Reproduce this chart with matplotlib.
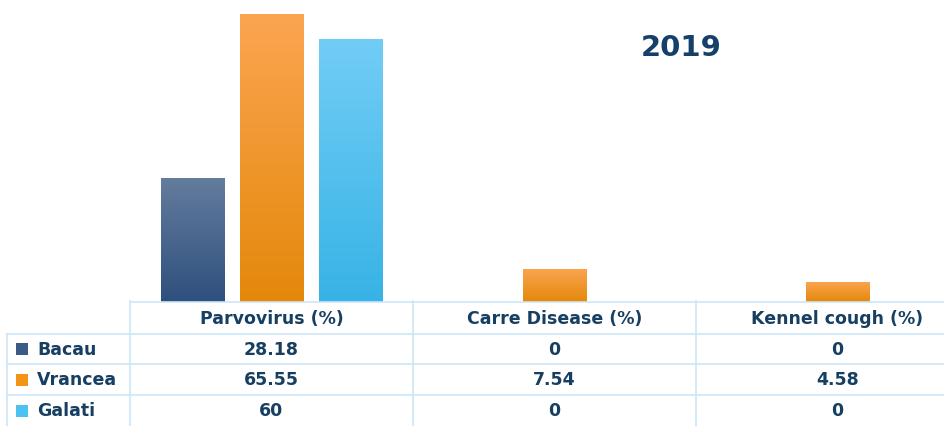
import numpy as np
import matplotlib
matplotlib.use("Agg")
import matplotlib.pyplot as plt
from matplotlib.transforms import blended_transform_factory
from matplotlib.patches import Rectangle
from matplotlib.colors import LinearSegmentedColormap

categories = ["Parvovirus (%)", "Carre Disease (%)", "Kennel cough (%)"]
series_names = ["Bacau", "Vrancea", "Galati"]
bacau = [28.18, 0, 0]
vrancea = [65.55, 7.54, 4.58]
galati = [60, 0, 0]
cell_labels = [["28.18", "0", "0"], ["65.55", "7.54", "4.58"], ["60", "0", "0"]]
title = "2019"

series = [bacau, vrancea, galati]
grad = [("#647c9d", "#2e507d"), ("#fba551", "#e4880a"), ("#72cdf6", "#37b3e5")]
solid = ["#3b5a85", "#f39419", "#4cc2f1"]
text_col = "#163f62"
border = "#cde6f7"

plt.rcParams['font.family'] = ['DejaVu Sans']
W, H = 944, 427
fig = plt.figure(figsize=(W / 100, H / 100), dpi=100)
ax = fig.add_axes([130 / W, 124 / H, 849 / W, 303 / H])
ax.set_xlim(-0.5, 2.5)
ax.set_ylim(0, 69)
ax.axis("off")

x = np.arange(len(categories))
bw = 0.223
off = 0.279
for i, vals in enumerate(series):
    bars = ax.bar(x + (i - 1) * off, vals, bw, color=solid[i], edgecolor="none", zorder=2)
    cmap = LinearSegmentedColormap.from_list("g%d" % i, [grad[i][1], grad[i][0]])
    for b in bars:
        if b.get_height() <= 0:
            continue
        x0, y0 = b.get_x(), b.get_y()
        im = ax.imshow(np.linspace(0, 1, 256).reshape(-1, 1), cmap=cmap, origin="lower",
                       extent=[x0, x0 + b.get_width(), y0, y0 + b.get_height()],
                       aspect="auto", zorder=3)
        im.set_clip_path(b)
ax.set_xlim(-0.5, 2.5)
ax.set_ylim(0, 69)

fig.text(681 / W, 1 - 48 / H, title, ha="center", va="center", fontsize=21,
         fontweight="bold", color="#14406a")

# table
tr = blended_transform_factory(ax.transData, fig.transFigure)
def fy(py):
    return 1 - py / H
rows_y = [302, 335, 365, 396, 427]
left_px = 7
lw = 1.2
fig.add_artist(plt.Line2D([-0.5, 2.5], [fy(302.5), fy(302.5)], transform=tr, color=border, lw=lw))
for yy in rows_y[1:4]:
    fig.add_artist(plt.Line2D([left_px / W, 1], [fy(yy), fy(yy)], transform=fig.transFigure,
                              color=border, lw=lw))
for k in range(len(categories)):
    fig.add_artist(plt.Line2D([k - 0.5, k - 0.5], [fy(302), 0], transform=tr, color=border, lw=lw))
fig.add_artist(plt.Line2D([left_px / W, left_px / W], [fy(335), 0], transform=fig.transFigure,
                          color=border, lw=lw))

fs = 12.5
for k, c in enumerate(categories):
    fig.text(k, fy((302 + 335) / 2), c, transform=tr, ha="center", va="center",
             fontsize=fs, fontweight="bold", color=text_col)
for r, name in enumerate(series_names):
    yc = (rows_y[r + 1] + rows_y[r + 2]) / 2
    fig.add_artist(Rectangle((16 / W, fy(yc + 6)), 12 / W, 12 / H, transform=fig.transFigure,
                             facecolor=solid[r], edgecolor="none"))
    fig.text(37 / W, fy(yc), name, ha="left", va="center", fontsize=fs,
             fontweight="bold", color=text_col)
    for k in range(len(categories)):
        fig.text(k, fy(yc), cell_labels[r][k], transform=tr, ha="center", va="center",
                 fontsize=fs, fontweight="bold", color=text_col)

fig.savefig("out.png", dpi=100)
